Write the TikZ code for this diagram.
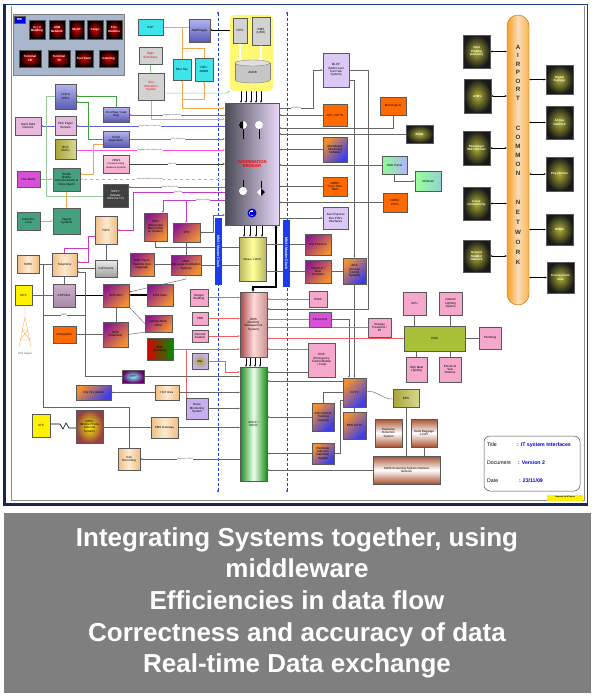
\documentclass[tikz,border=0pt]{standalone}
\usepackage{fontspec}
\setmainfont{Liberation Sans}
\usetikzlibrary{arrows.meta,backgrounds,calc}
\pgfdeclarelayer{bg}
\pgfsetlayers{bg,background,main}
\definecolor{navy}{HTML}{1F3A7A}
\definecolor{mnibg}{HTML}{A9B6CC}
\definecolor{cyanc}{HTML}{3FE3EA}
\definecolor{bpl}{HTML}{B4B4F0}
\definecolor{bpd}{HTML}{5A5AB4}
\definecolor{pinkp}{HTML}{E6B8DC}
\definecolor{pinkc}{HTML}{F5A8CC}
\definecolor{olivec}{HTML}{A8A438}
\definecolor{olivel}{HTML}{D8D890}
\definecolor{magc}{HTML}{D850D8}
\definecolor{greenc}{HTML}{45A07E}
\definecolor{peachl}{HTML}{FCEAD0}
\definecolor{peachd}{HTML}{F0BE84}
\definecolor{purc}{HTML}{8C1C8C}
\definecolor{orc}{HTML}{F09030}
\definecolor{orangec}{HTML}{FF6A00}
\definecolor{bluec}{HTML}{3C3CEB}
\definecolor{lpurc}{HTML}{DCC8F4}
\definecolor{lavc}{HTML}{C8B0F0}
\definecolor{glowc}{HTML}{B0B034}
\definecolor{pillc}{HTML}{F8A020}
\definecolor{pilll}{HTML}{F8DCB8}
\definecolor{ibd}{HTML}{4A4A55}
\definecolor{ibl}{HTML}{E8D8F8}
\definecolor{aoccg}{HTML}{1E8C1E}
\definecolor{bmsr}{HTML}{A84848}
\definecolor{cmsc}{HTML}{A8C038}
\definecolor{brc}{HTML}{A85030}
\definecolor{lnorc}{HTML}{F0A850}
\definecolor{lngrc}{HTML}{40A040}
\definecolor{lntlc}{HTML}{90C8A8}
\definecolor{lnmgc}{HTML}{C838C8}
\definecolor{lnblc}{HTML}{6060D0}
\definecolor{lnpkc}{HTML}{FF50E0}
\definecolor{lnrdc}{HTML}{F06060}
\definecolor{panelc}{HTML}{7F7F7F}
\definecolor{clockc}{HTML}{1A3CF0}
\newcommand\bxf{\fontsize{3}{3.4}\selectfont}
\newcommand\lbf{\fontsize{1.9}{2.1}\selectfont}
\newcommand\ttlf{\fontsize{5.2}{6}\selectfont}
\newcommand\mybox[7]{\node[#6, minimum width={(#4)-(#2)}, minimum height={(#5)-(#3)}] (#1) at ({((#2)+(#4))/2},{((#3)+(#5))/2}) {#7};}
\tikzset{
 bx/.style={draw=black!65, line width=0.4pt, inner sep=0pt, align=center, font=\bxf},
 redbx/.style={inner color=red!90!black, outer color=black, text=white, font=\bxf\bfseries},
 glowbx/.style={inner color=glowc, outer color=black!90, text=white, font=\bxf\bfseries},
 cyanbx/.style={fill=cyanc},
 bluebx/.style={top color=bpl, bottom color=bpd},
 greybx/.style={fill=gray!35, text=red},
 pinkpbx/.style={fill=pinkp},
 pinkbx/.style={fill=pinkc},
 olivebx/.style={left color=olivec, right color=olivel},
 magbx/.style={fill=magc},
 greenbx/.style={fill=greenc},
 darkbx/.style={fill=black!75, text=white},
 peachbx/.style={left color=peachd, right color=peachd, middle color=peachl},
 purorbx/.style={top color=purc, bottom color=orc, shading angle=45},
 orblbx/.style={top color=orc, bottom color=bluec, shading angle=45},
 orgbx/.style={fill=orangec},
 yelbx/.style={fill=yellow},
 lpurbx/.style={fill=lpurc},
 lavbx/.style={fill=lavc},
 ln/.style={draw=black!60, line width=0.45pt},
 lnk/.style={draw=black, line width=0.45pt},
 thk/.style={draw=black, line width=1.1pt},
 lnor/.style={draw=lnorc, line width=0.6pt},
 lngr/.style={draw=lngrc, line width=0.5pt},
 lntl/.style={draw=lntlc, line width=0.5pt},
 lnmg/.style={draw=lnmgc, line width=0.5pt},
 lnbl/.style={draw=lnblc, line width=0.5pt},
 lnpk/.style={draw=lnpkc, line width=0.5pt},
 lndk/.style={draw=black!75, line width=0.5pt},
 lnrd/.style={draw=lnrdc, line width=0.6pt},
 lnlg/.style={draw=green!30!gray!60, line width=0.5pt},
 arr/.style={-{Stealth[length=2.2pt,width=1.9pt]}},
 darr/.style={{Stealth[length=2.2pt,width=1.9pt]}-{Stealth[length=2.2pt,width=1.9pt]}},
 lbl/.style={font=\lbf, text=black!70, fill=white, inner sep=0.2pt},
 clockbx/.style={fill=clockc, text=white, font=\fontsize{3.6}{4}\selectfont\bfseries, rotate=-90, inner sep=0pt, minimum height=7},
}
\begin{document}
\begin{tikzpicture}[x=1pt,y=-1pt]
\useasboundingbox (0,0) rectangle (595,699);
\begin{pgfonlayer}{bg}
\fill[white] (0,0) rectangle (595,699);
\end{pgfonlayer}

% ---------- frame ----------
\draw[black!45, line width=0.6pt] (11,6) -- (11,500) -- (584,500) -- (584,6);
\draw[navy, line width=0.8pt] (3,4) -- (587,4) -- (587,506);
\fill[navy!70!black] (3,4) rectangle (6,506);
\fill[navy!70!black] (3,503) rectangle (588,506);

% ---------- MNI panel ----------
\mybox{mni}{13}{14}{124}{75}{draw=black!50, fill=mnibg}{}
\mybox{mnil}{14}{16}{25}{23}{bx,fill=blue!85!black,text=white,font=\bxf\bfseries}{MNI}
\mybox{m1}{29}{20}{45}{39}{bx,redbx}{G + 3\\Building}
\mybox{m2}{49}{20}{65}{39}{bx,redbx}{ASB\\Network}
\mybox{m3}{69}{20}{84}{39}{bx,redbx}{MLCP}
\mybox{m4}{87}{20}{103}{39}{bx,redbx}{Cargo}
\mybox{m5}{106}{20}{122}{39}{bx,redbx}{Fire\\Stations}
\mybox{m6}{19}{50}{41}{67}{bx,redbx}{Terminal\\1D}
\mybox{m7}{48}{50}{70}{67}{bx,redbx}{Terminal\\T2}
\mybox{m8}{75}{50}{93}{67}{bx,redbx}{Fuel Farm}
\mybox{m9}{99}{50}{118}{67}{bx,redbx}{Catering}

% ---------- top centre ----------
\mybox{sap}{138}{19}{163}{35}{bx,cyanbx}{SAP}
\mybox{staff}{189}{19}{210}{42}{bx,bluebx}{Staff Pages}
\mybox{fsch}{139}{47}{162}{64}{bx,greybx}{Flight\\Schedules}
\mybox{slot}{138}{73}{164}{100}{bx,greybx}{Slot\\Allocation\\System}
\mybox{bluesky}{173}{59}{191}{80}{bx,cyanbx}{Blue Sky}
\mybox{nid}{195}{58}{213}{81}{bx,cyanbx}{NID /\\AMDB}
\mybox{ybox}{230}{15}{273}{91}{draw=yellow!70!orange!40, fill=yellow!55, rounded corners=5pt}{}
\fill[gray!45] (235,63) rectangle (270,80);
\fill[gray!45] (252.5,80) ellipse [x radius=17.5pt, y radius=3pt];
\draw[gray] (235,63) -- (235,80) (270,63) -- (270,80);
\draw[gray] (235,80) arc [start angle=180, end angle=360, x radius=17.5pt, y radius=3pt];
\draw[gray, fill=gray!25] (252.5,63) ellipse [x radius=17.5pt, y radius=3pt];
\node[minimum width=35, minimum height=22, inner sep=0pt, font=\bxf] (aodb) at (252.5,72) {AODB};
\mybox{fips}{233}{18}{247}{43}{bx,fill=gray!35}{FIPS}
\mybox{rms}{252}{17}{270}{45}{bx,fill=gray!35}{RMS\\(UFIS)}
\draw[line width=2.4pt, white, {Triangle[length=3pt,width=5pt]}-{Triangle[length=3pt,width=5pt]}] (fips.south) -- (fips.south |- aodb.north);
\draw[line width=2.4pt, white, {Triangle[length=3pt,width=5pt]}-{Triangle[length=3pt,width=5pt]}] (rms.south) -- (rms.south |- aodb.north);

% ---------- information broker and centre column ----------
\mybox{ib}{225}{103}{279}{225}{bx,left color=ibd, right color=ibl}{}
\node[font=\fontsize{4.2}{4.8}\selectfont\bfseries, text=red, align=center] (ibt) at (252,164) {INFORMATION\\BROKER};
\draw[black, line width=0.4pt] (243,129) -- (243,139) (259,129) -- (259,139) (243,180) -- (243,187) (261,181) -- (261,188);
\fill[white] (243,125) circle [radius=4pt];
\fill[black] (243,121) arc [start angle=90, end angle=270, radius=4pt] -- cycle;
\fill[white] (259,125) circle [radius=4pt];
\fill[white] (243,191) circle [radius=4pt];
\fill[white] (261,188) -- (265,192) -- (261,196) -- (257,192) -- cycle;
\fill[black] (261,188) -- (265,192) -- (261,196) -- cycle;
\fill[blue!80!black] (252,213) circle [radius=4.5pt];
\fill[white] (252,213) circle [radius=2.8pt];
\fill[blue!80!black] (250,211.5) rectangle (253,214.5);
\fill[blue!80!black] (253,210) -- (255.5,213) -- (253,216) -- cycle;

\mybox{muse}{239}{237}{266}{281}{bx,left color=olivec!80, right color=olivec!80, middle color=yellow!40}{Muse / LDCS}
\mybox{bms}{240}{292}{267}{357}{bx,left color=bmsr, right color=bmsr!60, middle color=pink!60}{BMS\\(Building\\Management\\System)}
\mybox{aocc}{240}{367}{267}{481}{bx,left color=aoccg, right color=aoccg, middle color=green!8}{AOCC /\\SOCC}
\node[clockbx, minimum width=67] (clk1) at (218.5,251.5) {MNI / Master Clock};
\node[clockbx, minimum width=67] (clk2) at (286.5,253.5) {MNI / Master Clock};
\coordinate (d1t) at (218,13); \coordinate (d1b) at (218,491);
\coordinate (d2t) at (287,13); \coordinate (d2b) at (287,491);
\fill[clockc] (d1t) circle [radius=1.2pt] (d1b) circle [radius=1.2pt] (d2t) circle [radius=1.2pt] (d2b) circle [radius=1.2pt];

% ---------- left column ----------
\mybox{lcd}{55}{84}{76}{109}{bx,bluebx}{LCD \&\\LED's}
\mybox{hhd}{15}{117}{41}{135}{bx,pinkpbx}{Hand Held\\Devices}
\mybox{pax}{55}{116}{76}{135}{bx,pinkpbx}{PAX Pager\\Servers}
\mybox{fbag}{103}{107}{129}{122}{bx,bluebx}{First Bag / Last\\Bag}
\mybox{smart}{103}{131}{129}{147}{bx,bluebx}{Smart\\Application}
\mybox{bhssac}{55}{139}{76}{159}{bx,olivebx}{BHS\\(SAC)}
\mybox{vdgs}{103}{155}{129}{173}{bx,top color=pinkc!60, bottom color=pinkc}{VDGS\\{\fontsize{2.4}{2.8}\selectfont (Visual Docking}\\{\fontsize{2.4}{2.8}\selectfont Guidance System)}}
\mybox{fire}{17}{171}{40}{187}{bx,magbx}{Fire Alarm}
\mybox{pava}{53}{168}{80}{191}{bx,greenbx}{PA/VA\\(Public\\Announcement \&\\Voice Alarm)}
\mybox{matv}{103}{184}{128}{207}{bx,darkbx}{MATV\\(Master\\Antenna TV)}
\mybox{ind}{17}{212}{40}{230}{bx,greenbx}{Induction\\Loop}
\mybox{paging}{53}{208}{80}{234}{bx,greenbx}{Paging\\Systems}
\mybox{ivrs}{95}{216}{117}{244}{bx,peachbx}{IVRS}
\mybox{prs}{144}{213}{167}{241}{bx,purorbx}{PRS\\(Passenger\\Reconciliati\\on System)}
\mybox{spd}{173}{223}{200}{242}{bx,purorbx}{SPD}
\mybox{tmrs}{17}{255}{39}{273}{bx,peachbx}{TMRS}
\mybox{tel}{52}{253}{77}{276}{bx,peachbx}{Telephony}
\mybox{callc}{95}{260}{117}{277}{bx,top color=gray!15, bottom color=gray!75}{Call Centre}
\mybox{webt}{130}{253}{154}{276}{bx,purorbx}{Web Tracer\\Stations (lost\\baggage)}
\mybox{mds}{171}{255}{201}{275}{bx,purorbx}{MDS\\(Message Distribution\\System)}
\mybox{dcs}{15}{285}{32}{305}{bx,yelbx}{DCS}
\mybox{csp}{53}{284}{75}{307}{bx,top color=gray!40!violet!40, bottom color=gray!70!violet!70}{CSP Mux}
\mybox{sita}{103}{284}{129}{307}{bx,purorbx}{SITA ARH}
\mybox{telex}{147}{284}{173}{306}{bx,purorbx}{SITA Telex}
\mybox{abo}{145}{315}{172}{332}{bx,purorbx}{Airlines Back\\office}
\mybox{apis}{103}{322}{128}{347}{bx,purorbx}{APIS\\(Interface)}
\mybox{immig}{53}{326}{76}{343}{bx,orgbx}{Immigration}
\mybox{bmc}{147}{338}{173}{360}{bx,left color=red!85!black, middle color=red!55, right color=green!55!black}{BMC\\(Remedy)}
\mybox{hanger}{190}{289}{208}{306}{bx,pinkbx}{Hanger\\Building}
\mybox{pbb}{192}{312}{208}{325}{bx,pinkbx}{PBB}
\mybox{genav}{192}{330}{208}{342}{bx,pinkbx}{General\\Aviation}
\mybox{agl}{192}{353}{208}{369}{bx,inner color=olivec, outer color=lavc}{AGL}
\mybox{noise}{186}{398}{208}{419}{bx,lavbx}{Noise\\Monitoring\\System}
\mybox{vht}{122}{370}{144}{383}{bx,inner color=cyan!50, outer color=violet!80!black}{VHT}
\mybox{cfire}{76}{385}{111}{400}{bx,orblbx}{City Fire station}
\mybox{hot}{155}{385}{179}{400}{bx,peachbx}{HoT lines}
\mybox{mpas}{76}{410}{103}{443}{bx,inner color=yellow!90!orange, outer color=bmsr!90!black}{MPAS\\(Mobile Phone\\Antenna\\System)}
\mybox{sts}{32}{414}{50}{437}{bx,yelbx}{STS}
\mybox{sms}{151}{417}{178}{438}{bx,peachbx}{SMS Gateway}
\mybox{callr}{118}{448}{140}{470}{bx,peachbx}{Call\\Recording}
\draw[orange!70, line width=0.35pt] (25,305) -- (25,317) (25,317) -- (19,347) (25,317) -- (31,347) (22,330) -- (28,330) (20,340) -- (30,340) (22,330) -- (30,340) (28,330) -- (20,340);
\node[font=\fontsize{2.6}{3}\selectfont, text=black!70] (dta) at (25,354) {DTA Airport};

% ---------- right of broker ----------
\mybox{mlcp}{323}{53}{349}{87}{bx,lpurbx}{MLCP\\(Multi Level\\Car Park\\System)}
\mybox{atc}{323}{104}{347}{126}{bx,orgbx}{ATC / AFTN}
\mybox{metro}{380}{97}{406}{115}{bx,orgbx}{Metrological}
\mybox{epos}{406}{125}{433}{143}{bx,glowbx}{EPoS}
\mybox{attend}{323}{137}{347}{162}{bx,orblbx}{Attendance\\Monitoring\\Software}
\mybox{webp}{382}{156}{407}{174}{bx,left color=green!45, right color=blue!30}{Web Portal}
\mybox{kiosk}{415}{171}{441}{191}{bx,left color=green!40, right color=cyan!40!gray!60}{Infokiosk}
\mybox{dmrc}{323}{177}{347}{196}{bx,orgbx}{DMRC\\Train Time\\Table}
\mybox{dpid}{383}{193}{407}{212}{bx,orgbx}{DMRC\\PID's}
\mybox{aero}{323}{207}{348}{229}{bx,lpurbx}{Aero Express\\Bus PID's\\Interfaces}
\mybox{cityc}{305}{234}{331}{255}{bx,purorbx}{City Check-in}
\mybox{gate}{305}{260}{331}{283}{bx,purorbx}{Check-in /\\Gate\\Counters}
\mybox{acs}{343}{258}{366}{284}{bx,orblbx}{ACS\\(Access\\Control\\System)}
\mybox{hvac}{309}{291}{327}{307}{bx,pinkbx}{HVAC}
\mybox{firec}{309}{312}{331}{327}{bx,magbx}{Firecontrol}
\mybox{sewage}{368}{318}{391}{337}{bx,pinkbx}{Sewage\\Treatment /\\lift}
\mybox{ecb}{308}{343}{335}{377}{bx,pinkbx}{ECB\\(Emergency\\Control Button\\+ Fuel)}
\mybox{cctv}{343}{378}{366}{407}{bx,orblbx}{CCTV}
\mybox{bcctv}{343}{412}{366}{439}{bx,orblbx}{BHS CCTV}
\mybox{gis}{312}{403}{334}{431}{bx,orblbx}{GIS (Vehicle\\Tracking\\System)}
\mybox{pids}{312}{443}{334}{464}{bx,orblbx}{Perimeter\\Intrusion\\Detection\\System}
\mybox{eds}{375}{419}{402}{447}{bx,top color=brc, bottom color=brc, middle color=white}{Explosive\\Detection\\System}
\mybox{hbx}{411}{419}{437}{447}{bx,top color=brc, bottom color=brc, middle color=white}{Hand Baggage\\X-RAY}
\mybox{smith}{373}{456}{440}{484}{bx,top color=brc, bottom color=brc, middle color=white}{Smith Screening System Interface\\Network}
\mybox{bhs}{393}{389}{419}{407}{bx,olivebx}{BHS}
\mybox{cms}{404}{326}{465}{351}{bx,fill=cmsc}{CMS}
\mybox{gpu}{403}{292}{426}{315}{bx,pinkbx}{GPU}
\mybox{ils}{439}{292}{462}{315}{bx,pinkbx}{Internal\\Lighting\\System}
\mybox{plumb}{479}{327}{501}{349}{bx,pinkbx}{Plumbing}
\mybox{hml}{406}{357}{427}{382}{bx,pinkbx}{High Mast\\Lighting}
\mybox{ess}{439}{357}{461}{382}{bx,pinkbx}{Electrical\\Sub\\Stations}

% ---------- airport common network ----------
\node[draw=orange!80!black, line width=0.4pt, rounded corners=11pt, left color=pillc, right color=pillc!80, middle color=pilll, minimum width=22, minimum height=290] (acn) at (518,160) {};
\foreach \l/\yy in {A/47,I/55.5,R/64,P/72.5,O/81,R/89.5,T/98,C/128,O/137,M/146,M/155,O/164,N/173,N/202,E/212,T/222,W/232,O/242,R/252,K/262}
  \node[font=\fontsize{6.2}{7}\selectfont\bfseries, text=black!80] at (518,\yy) {\l};
\mybox{valet}{463}{35}{490}{68}{bx,glowbx}{Valet\\Parking\\(Arrivals)}
\mybox{atm}{464}{79}{491}{113}{bx,glowbx}{ATM's}
\mybox{wifi}{463}{131}{490}{165}{bx,glowbx}{Passenger\\WiFi Internet}
\mybox{forex}{463}{187}{490}{220}{bx,glowbx}{Forex\\Connectivity}
\mybox{ground}{463}{240}{490}{272}{bx,glowbx}{Ground\\Handler\\Network}
\mybox{dsig}{546}{65}{573}{94}{bx,glowbx}{Digital\\Signage}
\mybox{airtree}{546}{106}{573}{139}{bx,glowbx}{Airtree\\Network}
\mybox{payp}{546}{157}{573}{191}{bx,glowbx}{Pay phones}
\mybox{dfmd}{546}{214}{573}{245}{bx,glowbx}{DFMD}
\mybox{conc}{547}{262}{574}{293}{bx,glowbx}{Concessions\\area}

% ---------- title block ----------
\node[draw=black!70, line width=0.5pt, rounded corners=6pt, minimum width=96, minimum height=55] (tbox) at (532,463.5) {};
\node[anchor=west, font=\ttlf, inner sep=0pt] (t1) at (487,445) {Title};
\node[anchor=west, font=\ttlf\bfseries, text=blue!85!black, inner sep=0pt] (t2) at (517,445) {: IT system Interfaces};
\node[anchor=west, font=\ttlf, inner sep=0pt] (t3) at (487,463) {Document};
\node[anchor=west, font=\ttlf\bfseries, text=blue!85!black, inner sep=0pt] (t4) at (518,463) {: Version 2};
\node[anchor=west, font=\ttlf, inner sep=0pt] (t5) at (487,481) {Date};
\node[anchor=west, font=\ttlf\bfseries, text=blue!85!black, inner sep=0pt] (t6) at (519,481) {: 23/11/09};
\node[fill=yellow, font=\fontsize{1.9}{2.2}\selectfont\bfseries, minimum width=36, minimum height=6, inner sep=0pt] (prep) at (565,497.5) {Prepared by M Rajesh};

% ---------- connectors ----------
\begin{pgfonlayer}{background}
\draw[clockc, line width=0.5pt, dash pattern=on 3pt off 2pt] (d1t) -- (d1b) (d2t) -- (d2b);
% top left
\draw[lnor] (sap.east) -- (staff.west |- sap.east);
\draw[lnor] (sap.east) -| (bluesky.north);
\draw[lnor] (bluesky.north |- 0,48) -| (nid.north);
\draw[lnor,arr] (bluesky.south |- 0,99) -| (nid.south);
\draw[lnor,arr] (bluesky.south |- 0,108) -- (bluesky.south);
\draw[lnor,arr] (bluesky.south |- 0,108) -- (ib.west |- 0,108);
\draw[lnk,darr] (staff.east |- 0,30) -- (fips.west |- 0,30);
\draw[lngr] (fsch) -- (slot);
\draw[lntl,arr] (slot.east |- 0,93) -- (226,93) -- (ybox.south west);
\draw[lntl,arr] (slot.south) |- (ib.west |- 0,119);
\foreach \xx in {241,246,251,256,261} \draw[lnk,arr] (\xx,0 |- ybox.south) -- (\xx,0 |- ib.north);
\foreach \xx in {244,250,256,262} \draw[lnk,arr] (\xx,0 |- ib.south) -- (\xx,0 |- muse.north);
\foreach \xx in {246,250,255,260} \draw[lnk,arr] (\xx,0 |- bms.south) -- (\xx,0 |- aocc.north);
\draw[thk,{Stealth[length=3pt,width=3pt]}-{Stealth[length=3pt,width=3pt]}] (276,0 |- ib.south) |- (253,287) -- (253,0 |- bms.north);
% left lines into broker
\draw[lnmg,arr] (ib.west |- 0,115) -- (fbag.east |- 0,115);
\node[lbl] (l1) at (172,115) {Baggage unload info};
\draw[lnbl,arr] (ib.west |- 0,126) -- (pax.east |- 0,126);
\draw[lnbl,arr] (pax.west |- 0,126) -- (hhd.east |- 0,126);
\node[lbl] (l2) at (150,126) {Flight Status / Airport info};
\draw[lngr,arr] (smart.east |- 0,139) -- (ib.west |- 0,139);
\node[lbl] (l3) at (178,139) {FIP's distribution};
\draw[lnpk,arr] (bhssac.east |- 0,150) -- (ib.west |- 0,150);
\node[lbl] (l4) at (150,150) {Baggage sorter allocation info};
\draw[lndk,arr] (vdgs.east |- 0,164) -- (ib.west |- 0,164);
\node[lbl] (l5) at (172,164) {Flight Info};
\draw[lnor,dashed,arr] (ib.west |- 0,179) -- (pava.east |- 0,179);
\node[lbl] (l6) at (150,179) {Automatic flight announcement};
\draw[lnmg,arr] (ib.west |- 0,187) -- (matv.east |- 0,187);
\node[lbl] (l7) at (170,187) {Flight / Special info};
\draw[lnmg,arr] (ib.west |- 0,192) -- (133,192) |- (ivrs.east |- 0,230);
\node[lbl] (l8) at (178,192) {Flight info};
\draw[lnmg,arr] (ib.west |- 0,200) -| (163,0 |- prs.north);
\draw[lnmg,arr] (186,200) -- (186,0 |- spd.north);
\node[lbl] (l9) at (203,200) {Telephone billing};
\draw[lnmg,arr] (ivrs.west |- 0,236) -- (88,236) |- (tel.east |- 0,262);
\draw[lnmg] (tel.north) |- (88,248);
% green / orange left
\draw[lngr,arr] (fbag.north) |- (lcd.east |- 0,96);
\draw[lngr,arr] (smart.west) -- (88,139) |- (lcd.east |- 0,102);
\draw[lnlg] (lcd.west |- 0,96) -- (46,96) |- (matv.west |- 0,196);
\draw[lnor,arr] (smart.west |- 0,144) -- (93,144) |- (pava.east |- 0,174);
\draw[lnor,arr] (pava.south) -- (pava.south |- paging.north);
\draw[lnor,arr] (ind.east) -- (paging.west |- ind.east);
\draw[lnor,arr] (fire.east) -- (pava.west |- fire.east);
% grey left
\draw[ln] (tmrs.east) -- (tel.west |- tmrs.east);
\draw[ln] (callc.west) -- (tel.east |- callc.west);
\draw[ln] (ivrs.south) -- (ivrs.south |- callc.north);
\draw[ln] (tel.south) -- (tel.south |- csp.north);
\draw[thk] (csp.east) -- (sita.west |- csp.east);
\draw[thk,arr] (telex.west) -- (sita.east |- telex.west);
\draw[ln] (dcs.east) -- (csp.west |- dcs.east);
\draw[ln] (sita.south) -- (sita.south |- apis.north);
\draw[ln] (sita.south east) -- (abo.west);
\draw[ln] (apis.east) -- (abo.south west);
\draw[ln] (immig.east) -- (apis.west |- immig.east);
\draw[ln,arr] (mds.south) -- (186,279) -- (sita.east |- 0,292);
\draw[ln] (webt.east) -- (mds.west |- webt.east);
\draw[ln] (spd.south) -- (spd.south |- mds.north);
\draw[ln] (prs.south) |- (muse.west |- 0,247);
\draw[ln,darr] (spd.east) -- (213,232.5) |- (ib.west |- 0,215);
\draw[ln] (mds.east) -- (muse.west |- mds.east);
\draw[ln] (43,0 |- tmrs.east) -- (43,407) -| (callr.north);
\draw[ln,arr] (vht.west) -| (85,272) -- (tel.east |- 0,272);
\draw[ln] (43,315) -- (85,315);
\node[font=\fontsize{2.6}{3}\selectfont, fill=white, inner sep=0.3pt, text=black!70] (ofc) at (64,315) {OFC};
% broker right
\draw[ln,arr] (ib.east |- 0,108) -- (313,108) |- (mlcp.west);
\node[lbl] (l10) at (296,108) {ipt/Sab/Info};
\draw[ln,arr] (atc.west) -- (ib.east |- atc.west);
\draw[ln,arr] (metro.south) |- (ib.east |- 0,128);
\draw[ln,arr] (epos.west) -- (ib.east |- epos.west);
\draw[ln,arr] (attend.west) -- (ib.east |- attend.west);
\draw[ln,arr] (webp.west) -- (ib.east |- webp.west);
\draw[ln,arr] (webp.south) |- (kiosk.west);
\draw[ln,arr] (dmrc.west) -- (ib.east |- dmrc.west);
\draw[ln,arr] (dpid.west) -- (ib.east |- dpid.west);
\draw[ln,arr] (ib.east |- aero.west) -- (aero.west);
\draw[ln,arr] (mlcp.east) -- (368,0 |- mlcp.east) |- (bms.east |- 0,309);
\draw[ln,arr] (mlcp.east |- 0,80) -| (acs.north);
\draw[ln,arr] (acs.south) -- (acs.south |- cctv.north);
\draw[ln,arr] (firec.east) -| (349,0 |- cctv.north);
\draw[ln] (muse.east |- cityc.west) -- (cityc.west);
\draw[ln] (muse.east |- gate.west) -- (gate.west);
\draw[ln] (gate.east) -- (acs.west |- gate.east);
% red lines into BMS
\draw[lnrd,arr] (hanger.east) -- (bms.west |- hanger.east);
\draw[lnrd,arr] (pbb.east) -- (bms.west |- pbb.east);
\draw[lnrd,arr] (genav.east) -- (bms.west |- genav.east);
\draw[lnrd,arr] (bmc.east) -- (bms.west |- bmc.east);
\draw[lnrd] (bmc.east) -| (noise.north west);
\draw[lnrd,arr] (hvac.west) -- (bms.east |- hvac.west);
\draw[lnrd,arr] (firec.west) -- (bms.east |- firec.west);
\draw[lnrd,arr] (sewage.west) -- (bms.east |- sewage.west);
\draw[lnrd,arr] (cms.west) -- (bms.east |- cms.west);
\draw[lnrd,arr] (ecb.west |- 0,349) -- (bms.east |- 0,349);
\draw[lnrd,arr] (agl.east) -- (225,0 |- agl.east) |- (aocc.west |- 0,372);
% AOCC
\draw[ln,arr] (vht.east) -- (aocc.west |- vht.east);
\draw[ln,arr] (hot.east) -- (aocc.west |- hot.east);
\draw[ln,arr] (noise.east) -- (aocc.west |- noise.east);
\draw[ln,arr] (sms.east) -- (aocc.west |- sms.east);
\draw[ln,arr] (aocc.west |- callr.east) -- (callr.east);
\node[lbl] (l11) at (185,459) {Telephone / TMRS};
\draw[ln,arr] (hot.west) -- (cfire.east |- hot.west);
\draw[ln] (mpas.east |- sms.west) -- (sms.west);
\draw[lnk,line width=0.6pt] (sts.east |- 0,424) -- (60,424) -- (63,429) -- (66,423) -- (69,428) -- (mpas.west |- 0,428);
\draw[ln,arr] (ecb.west |- 0,372) -- (aocc.east |- 0,372);
\draw[ln,arr] (cctv.west |- 0,381) -- (aocc.east |- 0,381);
\draw[ln,arr] (gis.west) -- (aocc.east |- gis.west);
\draw[ln,arr] (pids.west) -- (aocc.east |- pids.west);
\draw[ln,arr] (smith.west) -- (aocc.east |- smith.west);
\draw[ln] (gis.north) |- (cctv.west |- 0,392);
\draw[ln] (pids.east) -- (340,0 |- pids.east) |- (cctv.west |- 0,400);
\draw[ln] (cctv.south) -- (bcctv.north);
\draw[ln] (cctv.east |- 0,392) .. controls (376,389) and (383,400) .. (bhs.west |- 0,399);
\draw[ln] (bhs.south) -- (bhs.south |- smith.north);
\draw[ln] (hbx.south) -- (hbx.south |- smith.north);
% CMS
\draw[ln] (gpu.south) -- (gpu.south |- cms.north);
\draw[ln] (ils.south) -- (ils.south |- cms.north);
\draw[ln] (hml.north) -- (hml.north |- cms.south);
\draw[ln] (ess.north) -- (ess.north |- cms.south);
\draw[ln] (cms.east) -- (plumb.west |- cms.east);
% common network
\foreach \bb in {valet,atm,wifi,forex,ground} \draw[lnk,darr] (\bb.east) -- (acn.west |- \bb.east);
\foreach \bb in {dsig,airtree,payp,dfmd,conc} \draw[lnk,darr] (\bb.west) -- (acn.east |- \bb.west);
\end{pgfonlayer}

% ---------- bottom panel ----------
\fill[panelc] (4,513) rectangle (591,693);
\foreach \tt/\yy in {{Integrating Systems together, using}/546,{middleware}/577,{Efficiencies in data flow}/609,{Correctness and accuracy of data}/641,{Real-time Data exchange}/672}
  \node[anchor=base, text=white, font=\fontsize{26}{30}\selectfont\bfseries, inner sep=0pt] at (297,\yy) {\tt};
\end{tikzpicture}
\end{document}
